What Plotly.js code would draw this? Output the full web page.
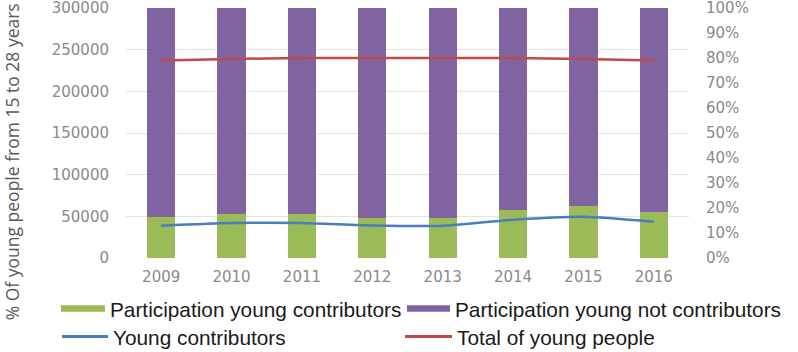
<!DOCTYPE html>
<html><head><meta charset="utf-8">
<script src="https://cdn.plot.ly/plotly-3.0.1.min.js"></script>
<style>html,body{margin:0;padding:0;background:#fff}#chart{width:798px;height:352px}</style>
</head><body><div id="chart"></div>
<script>
const years = ['2009','2010','2011','2012','2013','2014','2015','2016'];
const shareContributors = [0.166, 0.176, 0.176, 0.162, 0.162, 0.193, 0.209, 0.184];
const shareNotContributors = [0.834, 0.824, 0.824, 0.838, 0.838, 0.807, 0.791, 0.816];
const youngContributors = [38800, 42000, 42000, 39000, 38700, 46000, 49600, 43600];
const totalYoung = [237000, 238800, 240000, 240000, 240000, 240000, 238800, 237000];
const leftTicks = [0, 50000, 100000, 150000, 200000, 250000, 300000];
const rightTicks = [0, 0.1, 0.2, 0.3, 0.4, 0.5, 0.6, 0.7, 0.8, 0.9, 1.0];

const tickFont = {family: 'DejaVu Sans, Verdana, sans-serif', size: 15, color: '#8a8a8a'};
const legFont = {family: 'Liberation Sans Narrow, Arial Narrow, Liberation Sans, sans-serif', size: 20.8, color: '#1a1a1a'};

const traces = [
  {type:'bar', x: years, y: shareContributors, yaxis:'y', marker:{color:'#9bbb59'}, width:0.4, showlegend:false, name:'Participation young contributors'},
  {type:'bar', x: years, y: shareNotContributors, yaxis:'y', marker:{color:'#8064a2'}, width:0.4, showlegend:false, name:'Participation young not contributors'},
  {type:'scatter', mode:'lines', x: years, y: youngContributors, yaxis:'y2', line:{color:'#4a7ebb', width:2.5, shape:'spline', smoothing:0.6}, showlegend:false, name:'Young contributors'},
  {type:'scatter', mode:'lines', x: years, y: totalYoung, yaxis:'y2', line:{color:'#be4b48', width:2.5, shape:'spline', smoothing:0.6}, showlegend:false, name:'Total of young people'},
  {type:'scatter', mode:'lines', x:[null], y:[null], yaxis:'y2', line:{color:'#9bbb59', width:6.5}, name:'Participation young contributors', legend:'legend'},
  {type:'scatter', mode:'lines', x:[null], y:[null], yaxis:'y2', line:{color:'#8064a2', width:6.5}, name:'Participation young not contributors', legend:'legend2'},
  {type:'scatter', mode:'lines', x:[null], y:[null], yaxis:'y2', line:{color:'#4a7ebb', width:3}, name:'Young contributors', legend:'legend3'},
  {type:'scatter', mode:'lines', x:[null], y:[null], yaxis:'y2', line:{color:'#be4b48', width:3}, name:'Total of young people', legend:'legend4'}
];

const legendBase = {orientation:'h', xref:'container', yref:'container', xanchor:'left', yanchor:'middle', font: legFont, bgcolor:'rgba(0,0,0,0)'};
// container fractions: x = px/798, y = 1 - px/352
const layout = {
  width:798, height:352,
  margin:{l:126, r:109, t:8, b:94},
  paper_bgcolor:'#fff', plot_bgcolor:'#fff',
  barmode:'stack', bargap:0.6,
  xaxis:{type:'category', tickfont: tickFont, showgrid:false, zeroline:false, showline:false, ticks:'', ticklabelstandoff:8},
  yaxis:{side:'right', range:[0,1], tickvals: rightTicks, tickformat:'.0%', tickfont: tickFont, showgrid:false, zeroline:false, showline:false, ticks:'', ticklabelstandoff:16, ticklabeloverflow:'allow'},
  yaxis2:{overlaying:'y', side:'left', range:[0,300000], tickvals: leftTicks, tickformat:'d', tickfont: tickFont, showgrid:true, gridcolor:'#e3e3e3', gridwidth:1, zeroline:false, showline:false, ticks:'', ticklabelstandoff:16, ticklabeloverflow:'allow'},
  legend: Object.assign({}, legendBase, {x:56/798, y:1-309/352, itemwidth:44}),
  legend2: Object.assign({}, legendBase, {x:402/798, y:1-309/352, itemwidth:43}),
  legend3: Object.assign({}, legendBase, {x:57/798, y:1-337/352, itemwidth:46}),
  legend4: Object.assign({}, legendBase, {x:400/798, y:1-337/352, itemwidth:47}),
  annotations:[{text:'% Of young people from 15 to 28 years', xref:'paper', yref:'paper', x:-0.202, y:0.384, xanchor:'center', yanchor:'middle', showarrow:false, textangle:-90, font:{family:'Open Sans, DejaVu Sans, sans-serif', size:17.5, color:'#595959'}}]
};

Plotly.newPlot('chart', traces, layout, {displayModeBar:false, staticPlot:true});
</script>
</body></html>
